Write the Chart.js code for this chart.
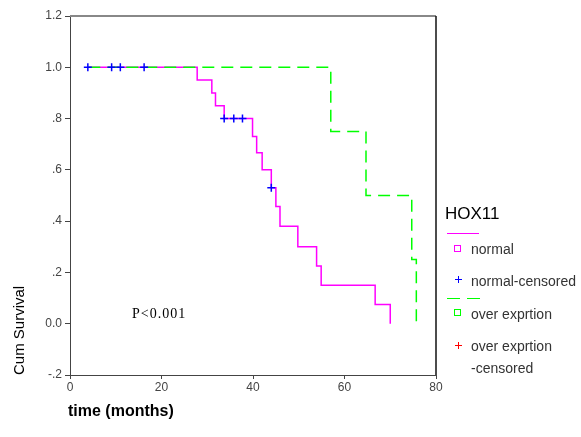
<!DOCTYPE html>
<html>
<head>
<meta charset="utf-8">
<script src="https://cdn.jsdelivr.net/npm/chart.js@4.4.1/dist/chart.umd.min.js"></script>
<style>
  body { margin: 0; background: #fff; }
  #wrap { position: relative; width: 581px; height: 437px; font-family: "Liberation Sans", Arial, sans-serif; color: #333; }
  #wrap div { position: absolute; white-space: nowrap; }
  .lbl { font-size: 14px; line-height: 14px; left: 471px; }
  .sq { width: 5px; height: 5px; border: 1px solid; left: 454px; }
</style>
</head>
<body>
<div id="wrap">
  <canvas id="km" width="581" height="437"></canvas>
  <div style="left:445px;top:205px;font-size:17px;line-height:17px;color:#000">HOX11</div>
  <div style="left:447px;top:233px;width:32px;height:1px;background:#ff00ff"></div>
  <div class="sq" style="top:245px;border-color:#ff00ff"></div>
  <div class="lbl" style="top:242px">normal</div>
  <div style="left:455px;top:279px;width:7px;height:1px;background:#0000ff"></div>
  <div style="left:458px;top:276px;width:1px;height:7px;background:#0000ff"></div>
  <div class="lbl" style="top:274px">normal-censored</div>
  <div style="left:447px;top:298px;width:13px;height:1px;background:#00ff00"></div>
  <div style="left:467px;top:298px;width:13px;height:1px;background:#00ff00"></div>
  <div class="sq" style="top:309px;border-color:#00ff00"></div>
  <div class="lbl" style="top:307px">over exprtion</div>
  <div style="left:455px;top:345px;width:7px;height:1px;background:#ff0000"></div>
  <div style="left:458px;top:342px;width:1px;height:7px;background:#ff0000"></div>
  <div class="lbl" style="top:339px">over exprtion</div>
  <div class="lbl" style="top:361px">-censored</div>
  <div style="left:132px;top:306px;font-family:'Liberation Serif','Times New Roman',serif;font-size:14px;letter-spacing:1px;color:#000">P&lt;0.001</div>
  <div style="left:68px;top:402px;font-size:16px;font-weight:bold;color:#000">time (months)</div>
  <div style="left:10px;top:375px;font-size:15px;line-height:17px;color:#000;transform:rotate(-90deg);transform-origin:0 0">Cum Survival</div>
</div>
<script>
// HOX11 Kaplan-Meier curves
const normalTime = [4, 27.8, 31.0, 31.8, 33.7, 39.9, 40.8, 42.0, 44.0, 45.0, 45.9, 49.8, 53.9, 54.9, 66.7, 70.0]
const normalSurv = [1.0, 0.95, 0.90, 0.85, 0.80, 0.73, 0.667, 0.60, 0.53, 0.457, 0.38, 0.30, 0.225, 0.15, 0.075, 0.0]

const overTime = [4, 57.0, 64.7, 74.7, 75.7]
const overSurv = [1.0, 0.75, 0.50, 0.25, 0.0]

const censorTime = [3.9, 9.1, 11.0, 16.2, 33.7, 35.8, 37.7, 44.0]
const censorSurv = [1.0, 1.0, 1.0, 1.0, 0.80, 0.80, 0.80, 0.53]

const xTicks = [0, 20, 40, 60, 80]
const yTicks = [1.2, 1.0, 0.8, 0.6, 0.4, 0.2, 0.0, -0.2]
const yTickLabels = ['1.2', '1.0', '.8', '.6', '.4', '.2', '0.0', '-.2']

const toPoints = (xs, ys) => xs.map((x, i) => ({ x: x, y: ys[i] }))

const tickFont = { family: '"Liberation Sans", Arial, sans-serif', size: 12 }

// top and right edge of the plot frame
const frameLines = {
  id: 'frameLines',
  afterDraw(chart) {
    const { ctx, chartArea: a } = chart
    ctx.save()
    ctx.strokeStyle = '#888'
    ctx.lineWidth = 2
    ctx.beginPath(); ctx.moveTo(a.left, a.top); ctx.lineTo(a.right, a.top); ctx.stroke()
    ctx.strokeStyle = '#111'
    ctx.lineWidth = 1.5
    ctx.beginPath(); ctx.moveTo(a.right, a.top); ctx.lineTo(a.right, a.bottom); ctx.stroke()
    ctx.restore()
  }
}

new Chart(document.getElementById('km'), {
  type: 'scatter',
  data: {
    datasets: [
      {
        label: 'normal-censored',
        data: toPoints(censorTime, censorSurv),
        showLine: false,
        pointStyle: 'cross',
        pointRadius: 4,
        borderColor: '#0000ff',
        borderWidth: 1.5,
      },
      {
        label: 'over exprtion',
        data: toPoints(overTime, overSurv),
        showLine: true,
        stepped: 'before',
        borderColor: '#00ff00',
        borderWidth: 1.5,
        borderDash: [12, 7],
        pointRadius: 0,
      },
      {
        label: 'normal',
        data: toPoints(normalTime, normalSurv),
        showLine: true,
        stepped: 'before',
        borderColor: '#ff00ff',
        borderWidth: 1.5,
        pointRadius: 0,
      },
    ],
  },
  options: {
    responsive: false,
    animation: false,
    layout: { padding: { top: 16, right: 145, left: 0, bottom: 0 } },
    plugins: {
      legend: { display: false },
      tooltip: { enabled: false },
    },
    scales: {
      x: {
        type: 'linear',
        min: 0,
        max: 80,
        afterBuildTicks: s => { s.ticks = xTicks.map(v => ({ value: v })) },
        afterFit: s => { s.height = 62 },
        grid: { drawOnChartArea: false, tickLength: 4, color: '#444' },
        border: { color: '#444', width: 1 },
        ticks: { font: tickFont, color: '#444', padding: 1, maxRotation: 0 },
      },
      y: {
        type: 'linear',
        min: -0.2,
        max: 1.2,
        afterBuildTicks: s => { s.ticks = yTicks.map(v => ({ value: v })) },
        afterFit: s => { s.width = 70 },
        grid: { drawOnChartArea: false, tickLength: 5, color: '#444' },
        border: { color: '#444', width: 1 },
        ticks: { font: tickFont, color: '#444', padding: 3, callback: (v, i) => yTickLabels[i] },
      },
    },
  },
  plugins: [frameLines],
})
</script>
</body>
</html>
